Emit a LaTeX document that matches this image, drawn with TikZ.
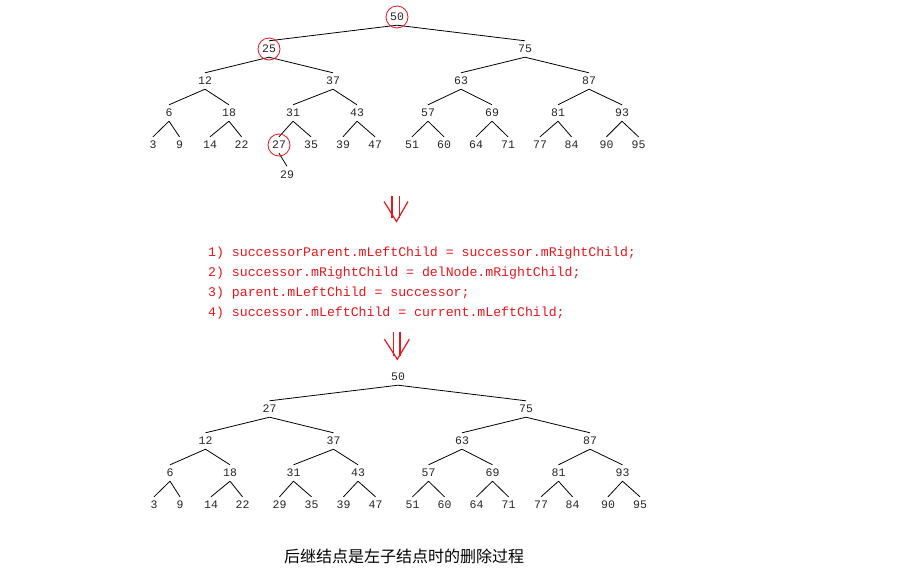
\documentclass[tikz,border=0pt]{standalone}
\usepackage{fontspec}
\setmonofont{Liberation Mono}
\newfontfamily\cjk{Noto Sans CJK SC}
\definecolor{markred}{RGB}{232,22,28}

\begin{document}
\begin{tikzpicture}[
  x=1pt, y=-1pt,
  val/.style={font=\fontsize{11.5}{12}\selectfont\ttfamily, text=black!85, inner sep=0pt, minimum height=16pt, text height=7pt, text depth=0pt},
  link/.style={black, line width=0.8pt},
  ring/.style={draw=markred, line width=0.8pt},
  codeline/.style={font=\fontsize{13.2}{16}\selectfont\ttfamily, text=markred, anchor=base west, inner sep=0pt},
  darr/.style={markred, line width=1.2pt},
  capt/.style={font=\fontsize{16}{18}\selectfont\cjk},
]
\useasboundingbox (0,0) rectangle (900,579);
% ================= tree before deletion =================
\node[val] (t50) at (397,17) {50};
\node[val] (t25) at (269,49) {25}; \node[val] (t75) at (525,49) {75};
\node[val] (t12) at (205,81) {12}; \node[val] (t37) at (333,81) {37};
\node[val] (t63) at (461,81) {63}; \node[val] (t87) at (589,81) {87};
\node[val] (t6) at (169,113) {6};   \node[val] (t18) at (229,113) {18};
\node[val] (t31) at (293,113) {31}; \node[val] (t43) at (357,113) {43};
\node[val] (t57) at (428,113) {57}; \node[val] (t69) at (492,113) {69};
\node[val] (t81) at (558,113) {81}; \node[val] (t93) at (622,113) {93};
\node[val] (t3) at (153,145) {3};    \node[val] (t9) at (179.5,145) {9};
\node[val] (t14) at (210,145) {14};  \node[val] (t22) at (241.5,145) {22};
\node[val] (t27) at (279,145) {27};  \node[val] (t35) at (311,145) {35};
\node[val] (t39) at (343,145) {39};  \node[val] (t47) at (375,145) {47};
\node[val] (t51) at (412,145) {51};  \node[val] (t60) at (444,145) {60};
\node[val] (t64) at (476,145) {64};  \node[val] (t71) at (508,145) {71};
\node[val] (t77) at (540,145) {77};  \node[val] (t84) at (571.5,145) {84};
\node[val] (t90) at (606.5,145) {90}; \node[val] (t95) at (638.5,145) {95};
\node[val] (t29) at (287,174.5) {29};
\draw[link] (t50.south) -- (t25.north) (t50.south) -- (t75.north);
\draw[link] (t25.south) -- (t12.north) (t25.south) -- (t37.north) (t75.south) -- (t63.north) (t75.south) -- (t87.north);
\draw[link] (t12.south) -- (t6.north) (t12.south) -- (t18.north) (t37.south) -- (t31.north) (t37.south) -- (t43.north);
\draw[link] (t63.south) -- (t57.north) (t63.south) -- (t69.north) (t87.south) -- (t81.north) (t87.south) -- (t93.north);
\draw[link] (t6.south) -- (t3.north) (t6.south) -- (t9.north) (t18.south) -- (t14.north) (t18.south) -- (t22.north);
\draw[link] (t31.south) -- (t27.north) (t31.south) -- (t35.north) (t43.south) -- (t39.north) (t43.south) -- (t47.north);
\draw[link] (t57.south) -- (t51.north) (t57.south) -- (t60.north) (t69.south) -- (t64.north) (t69.south) -- (t71.north);
\draw[link] (t81.south) -- (t77.north) (t81.south) -- (t84.north) (t93.south) -- (t90.north) (t93.south) -- (t95.north);
\draw[link] (t27.south) -- (t29.north);
\draw[ring] (t50) circle (11pt); \draw[ring] (t25) circle (11pt); \draw[ring] (t27) circle (11pt);
% ================= steps =================
\coordinate (arrA) at (396.5,221.5);
\draw[darr] (arrA) ++(-12.5,-20) -- (arrA) -- ++(11.5,-20);
\draw[darr] (arrA) ++(-4.5,-26) -- ++(0,22) (arrA) ++(2.8,-26) -- ++(0,22);
\node[codeline] (c1) at (208,256.7) {1) successorParent.mLeftChild = successor.mRightChild;};
\node[codeline] (c2) at (208,276.7) {2) successor.mRightChild = delNode.mRightChild;};
\node[codeline] (c3) at (208,296.7) {3) parent.mLeftChild = successor;};
\node[codeline] (c4) at (208,316.7) {4) successor.mLeftChild = current.mLeftChild;};
\coordinate (arrB) at (397.3,359.3);
\draw[darr] (arrB) ++(-12.8,-20) -- (arrB) -- ++(12,-20);
\draw[darr] (arrB) ++(-4,-27) -- ++(0,24) (arrB) ++(2.7,-27) -- ++(0,24);
% ================= tree after deletion =================
\node[val] (b50) at (398,377) {50};
\node[val] (b27) at (269.5,409) {27}; \node[val] (b75) at (526,409) {75};
\node[val] (b12) at (205.5,441) {12}; \node[val] (b37) at (333.5,441) {37};
\node[val] (b63) at (462,441) {63};   \node[val] (b87) at (590,441) {87};
\node[val] (b6) at (170,473) {6};     \node[val] (b18) at (230,473) {18};
\node[val] (b31) at (293.5,473) {31}; \node[val] (b43) at (358,473) {43};
\node[val] (b57) at (428.5,473) {57}; \node[val] (b69) at (492.5,473) {69};
\node[val] (b81) at (558.5,473) {81}; \node[val] (b93) at (622.5,473) {93};
\node[val] (b3) at (154,505) {3};     \node[val] (b9) at (180,505) {9};
\node[val] (b14) at (211,505) {14};   \node[val] (b22) at (242.5,505) {22};
\node[val] (b29) at (279.5,505) {29}; \node[val] (b35) at (311.5,505) {35};
\node[val] (b39) at (343.5,505) {39}; \node[val] (b47) at (375.5,505) {47};
\node[val] (b51) at (412.5,505) {51}; \node[val] (b60) at (444.5,505) {60};
\node[val] (b64) at (476.5,505) {64}; \node[val] (b71) at (508.5,505) {71};
\node[val] (b77) at (541,505) {77};   \node[val] (b84) at (572.5,505) {84};
\node[val] (b90) at (608,505) {90};   \node[val] (b95) at (640,505) {95};
\draw[link] (b50.south) -- (b27.north) (b50.south) -- (b75.north);
\draw[link] (b27.south) -- (b12.north) (b27.south) -- (b37.north) (b75.south) -- (b63.north) (b75.south) -- (b87.north);
\draw[link] (b12.south) -- (b6.north) (b12.south) -- (b18.north) (b37.south) -- (b31.north) (b37.south) -- (b43.north);
\draw[link] (b63.south) -- (b57.north) (b63.south) -- (b69.north) (b87.south) -- (b81.north) (b87.south) -- (b93.north);
\draw[link] (b6.south) -- (b3.north) (b6.south) -- (b9.north) (b18.south) -- (b14.north) (b18.south) -- (b22.north);
\draw[link] (b31.south) -- (b29.north) (b31.south) -- (b35.north) (b43.south) -- (b39.north) (b43.south) -- (b47.north);
\draw[link] (b57.south) -- (b51.north) (b57.south) -- (b60.north) (b69.south) -- (b64.north) (b69.south) -- (b71.north);
\draw[link] (b81.south) -- (b77.north) (b81.south) -- (b84.north) (b93.south) -- (b90.north) (b93.south) -- (b95.north);
% ================= caption =================
\node[capt] (cap) at (404,556) {后继结点是左子结点时的删除过程};
\end{tikzpicture}
\end{document}
